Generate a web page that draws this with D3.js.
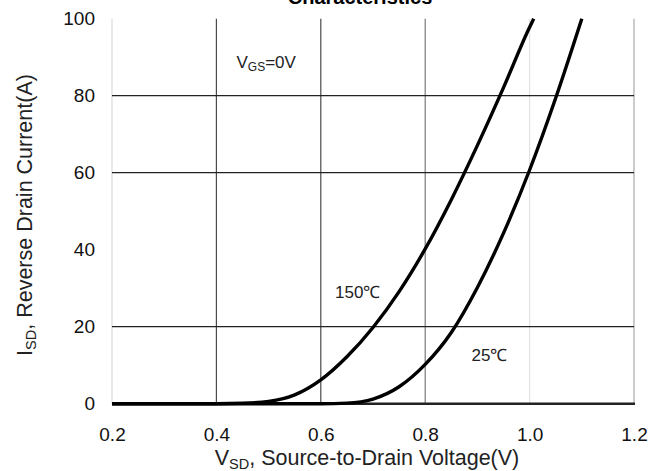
<!DOCTYPE html>
<html>
<head>
<meta charset="utf-8">
<script src="https://cdn.jsdelivr.net/npm/d3@7"></script>
<style>
  html, body { margin: 0; padding: 0; background: #fff; }
  svg { display: block; font-family: "Liberation Sans", Arial, sans-serif; }
</style>
</head>
<body>
<svg id="chart" width="664" height="471"></svg>
<script>
// ---- data ----
const xTickValues = [0.2, 0.4, 0.6, 0.8, 1.0, 1.2];
const yTickValues = [0, 20, 40, 60, 80, 100];
const hGridValues = [20, 60, 80];

const v150 = [0.2, 0.3, 0.4, 0.45, 0.5, 0.55, 0.6, 0.65, 0.7, 0.75, 0.8, 0.85, 0.9, 0.95, 1.0, 1.008];
const i150 = [0, 0, 0, 0.1, 0.6, 2.3, 6.2, 12.2, 19.8, 29.1, 40.2, 53.0, 67.1, 82.1, 97.8, 100];

const v25 = [0.2, 0.5, 0.6, 0.65, 0.7, 0.75, 0.8, 0.85, 0.9, 0.95, 1.0, 1.05, 1.1];
const i25 = [0, 0, 0, 0.15, 1.2, 4.4, 10.2, 18.5, 30.2, 44.3, 60.7, 79.4, 100];

const seriesLabels = ["150\u2103", "25\u2103"];
const titleText = "Characteristics";

// ---- layout ----
const svg = d3.select("#chart");
const plotLeft = 112, plotRight = 634, plotTop = 18.7, plotBottom = 403.7;

const x = d3.scaleLinear().domain([0.2, 1.2]).range([plotLeft, plotRight]);
const y = d3.scaleLinear().domain([0, 100]).range([plotBottom, plotTop]);

// title (cut off at top)
svg.append("text")
  .attr("x", 360).attr("y", 3.5)
  .attr("text-anchor", "middle")
  .attr("font-size", 20).attr("font-weight", "bold")
  .text(titleText);

// vertical grid lines
const vColor = v => {
  if (v === 0.2) return "#dcdcdc";
  if (v === 1.0) return "#e2e2e2";
  if (v === 1.2) return "#a8a8a8";
  if (v === 0.8) return "#7a7a7a";
  return "#4a4a4a";
};
svg.append("g").selectAll("line").data(xTickValues).join("line")
  .attr("x1", d => x(d)).attr("x2", d => x(d))
  .attr("y1", y(100)).attr("y2", y(0))
  .attr("stroke", d => vColor(d)).attr("stroke-width", 1.2);

// horizontal grid lines
svg.append("g").selectAll("line").data(hGridValues).join("line")
  .attr("x1", x(0.2)).attr("x2", x(1.2))
  .attr("y1", d => y(d)).attr("y2", d => y(d))
  .attr("stroke", "#222").attr("stroke-width", 1.2);

// bottom axis line
svg.append("line")
  .attr("x1", x(0.2)).attr("x2", x(1.2) + 1)
  .attr("y1", y(0)).attr("y2", y(0))
  .attr("stroke", "#222").attr("stroke-width", 2.4);

// axes labels
const xAxis = d3.axisBottom(x).tickValues(xTickValues).tickSize(0).tickPadding(24)
  .tickFormat(d3.format(".1f"));
const gx = svg.append("g").attr("transform", `translate(0,${y(0)})`).call(xAxis);
gx.select(".domain").remove();
gx.selectAll("text").attr("font-size", 19).attr("fill", "#111")
  .attr("font-family", "Liberation Sans, Arial, sans-serif");

const yAxis = d3.axisLeft(y).tickValues(yTickValues).tickSize(0).tickPadding(17)
  .tickFormat(d3.format("d"));
const gy = svg.append("g").attr("transform", `translate(${x(0.2)},0)`).call(yAxis);
gy.select(".domain").remove();
gy.selectAll("text").attr("font-size", 19).attr("fill", "#111")
  .attr("font-family", "Liberation Sans, Arial, sans-serif");

// curves
const line = d3.line().x(d => x(d[0])).y(d => y(d[1])).curve(d3.curveMonotoneX);
const s150 = v150.map((v, i) => [v, i150[i]]);
const s25 = v25.map((v, i) => [v, i25[i]]);
[s150, s25].forEach(s => {
  svg.append("path").datum(s)
    .attr("d", line)
    .attr("fill", "none")
    .attr("stroke", "#000")
    .attr("stroke-width", 3.4)
    .attr("stroke-linejoin", "round");
});

// annotations
const vgs = svg.append("text").attr("x", 236.5).attr("y", 68.3)
  .attr("font-size", 17).attr("fill", "#222");
vgs.append("tspan").text("V");
vgs.append("tspan").attr("font-size", 12).attr("dy", 3).text("GS");
vgs.append("tspan").attr("dy", -3).text("=0V");

svg.append("text").attr("x", 335).attr("y", 298.3)
  .attr("font-size", 17).attr("fill", "#222").text(seriesLabels[0]);
svg.append("text").attr("x", 471.5).attr("y", 360.7)
  .attr("font-size", 17).attr("fill", "#222").text(seriesLabels[1]);

// x axis title
const xt = svg.append("text").attr("x", 367).attr("y", 464.5)
  .attr("text-anchor", "middle").attr("font-size", 21.5).attr("fill", "#222");
xt.append("tspan").text("V");
xt.append("tspan").attr("font-size", 14.5).attr("dy", 4).text("SD");
xt.append("tspan").attr("dy", -4).text(", Source-to-Drain Voltage(V)");

// y axis title
const yt = svg.append("text")
  .attr("transform", "translate(32,215) rotate(-90)")
  .attr("text-anchor", "middle").attr("font-size", 21.5).attr("fill", "#222");
yt.append("tspan").text("I");
yt.append("tspan").attr("font-size", 14.5).attr("dy", 4).text("SD");
yt.append("tspan").attr("dy", -4).text(", Reverse Drain Current(A)");
</script>
</body>
</html>
